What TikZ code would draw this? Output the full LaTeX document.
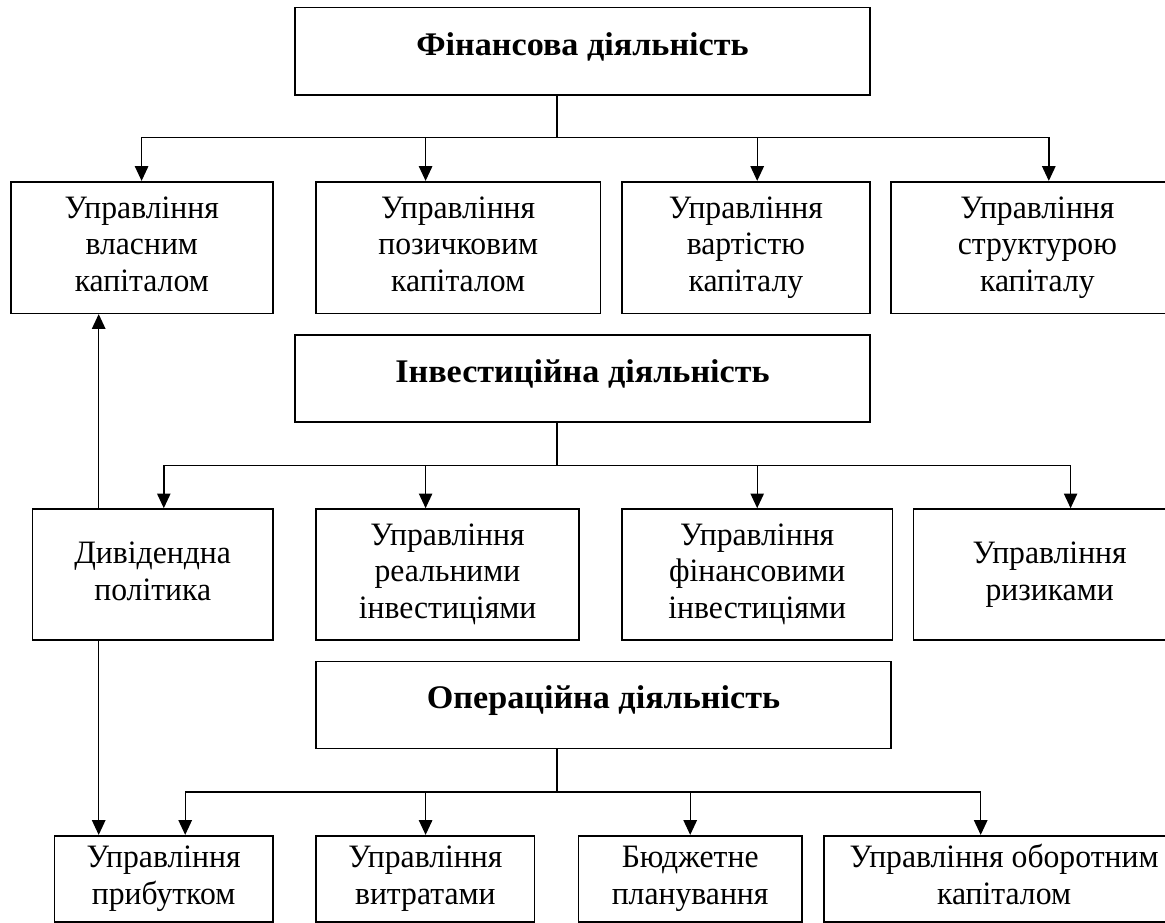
\documentclass[tikz,border=0pt]{standalone}
\usepackage{graphicx}
\usepackage{fontspec}
\setmainfont{Liberation Serif}
\usetikzlibrary{arrows.meta}
\newcommand{\mybox}[7]{\node[#1, minimum width={(#5-#3)*0.75pt}, minimum height={(#6-#4)*0.75pt}] (#2) at ({(#3+#5)/2},{(#4+#6)/2}) {#7};}
\newcommand{\mytext}[1]{\scalebox{0.97}[1]{\begin{tabular}{@{}c@{}}#1\end{tabular}}}
\newcommand{\mytitle}[1]{\scalebox{1.035}[1]{#1}}
\tikzset{
  box/.style={draw, line width=1.2pt, inner sep=0pt, align=center, font=\fontsize{24.5pt}{27.5pt}\selectfont},
  tbox/.style={box, font=\fontsize{24.75pt}{27.5pt}\selectfont\bfseries, text height=18pt, text depth=12pt},
  conn/.style={line width=1.05pt, line cap=rect},
  arr/.style={line width=1.05pt, -{Triangle[length=11pt,width=10pt]}}
}
\begin{document}
\begin{tikzpicture}[x=0.75pt,y=-0.75pt]
\useasboundingbox (0,0) rectangle (1165,922);
\fill[white] (0,0) rectangle (1165,922);
\clip (0,0) rectangle (1165,922);

% level 1
\mybox{tbox}{F}{295}{7.5}{870}{95}{\mytitle{Фінансова діяльність}}
\mybox{box}{A1}{10.7}{181.7}{272.9}{313.3}{\mytext{Управління\\власним\\капіталом}}
\mybox{box}{A2}{316.1}{181.7}{600.3}{313.3}{\mytext{Управління\\позичковим\\капіталом}}
\mybox{box}{A3}{622.1}{181.7}{869.7}{313.3}{\mytext{Управління\\вартістю\\капіталу}}
\mybox{box}{A4}{890.8}{181.7}{1184}{313.3}{\mytext{Управління\\структурою\\капіталу}}

% level 2
\mybox{tbox}{I}{295}{334.7}{870}{421.7}{\mytitle{Інвестиційна діяльність}}
\mybox{box}{B1}{32.5}{509}{272.9}{639.7}{\mytext{Дивідендна\\політика}}
\mybox{box}{B2}{316.1}{509}{579}{639.7}{\mytext{Управління\\реальними\\інвестиціями}}
\mybox{box}{B3}{622.1}{509}{892.3}{639.7}{\mytext{Управління\\фінансовими\\інвестиціями}}
\mybox{box}{B4}{913.3}{509}{1186}{639.7}{\mytext{Управління\\ризиками}}

% level 3
\mybox{tbox}{O}{316}{661.3}{891}{748.3}{\mytitle{Операційна діяльність}}
\mybox{box}{C1}{54.3}{835.7}{272.9}{922}{\mytext{Управління\\прибутком}}
\mybox{box}{C2}{316.1}{835.7}{534.6}{922}{\mytext{Управління\\витратами}}
\mybox{box}{C3}{578.3}{835.7}{802}{922}{\mytext{Бюджетне\\планування}}
\mybox{box}{C4}{824.2}{835.7}{1184}{922}{\mytext{Управління оборотним\\капіталом}}

% bus 1
\coordinate (s1) at (556.8,137.3);
\coordinate (h1a) at (141.6,137.3);
\coordinate (h1b) at (425.6,137.3);
\coordinate (h1c) at (757.2,137.3);
\coordinate (h1d) at (1048.8,137.3);
\draw[conn] (F.south -| s1) -- (s1);
\draw[conn] (h1a) -- (h1d);
\draw[arr] (h1a) -- (A1.north -| h1a);
\draw[arr] (h1b) -- (A2.north -| h1b);
\draw[arr] (h1c) -- (A3.north -| h1c);
\draw[arr] (h1d) -- (A4.north -| h1d);

% bus 2
\coordinate (s2) at (556.8,465.3);
\coordinate (h2a) at (163.8,465.3);
\coordinate (h2b) at (425.6,465.3);
\coordinate (h2c) at (757.2,465.3);
\coordinate (h2d) at (1070.6,465.3);
\draw[conn] (I.south -| s2) -- (s2);
\draw[conn] (h2a) -- (h2d);
\draw[arr] (h2a) -- (B1.north -| h2a);
\draw[arr] (h2b) -- (B2.north -| h2b);
\draw[arr] (h2c) -- (B3.north -| h2c);
\draw[arr] (h2d) -- (B4.north -| h2d);

% bus 3
\coordinate (s3) at (556.8,792);
\coordinate (h3a) at (185.2,792);
\coordinate (h3b) at (425.6,792);
\coordinate (h3c) at (690.2,792);
\coordinate (h3d) at (980.7,792);
\draw[conn] (O.south -| s3) -- (s3);
\draw[conn] (h3a) -- (h3d);
\draw[arr] (h3a) -- (C1.north -| h3a);
\draw[arr] (h3b) -- (C2.north -| h3b);
\draw[arr] (h3c) -- (C3.north -| h3c);
\draw[arr] (h3d) -- (C4.north -| h3d);

% dividend policy links
\coordinate (dv) at (98.7,0);
\draw[arr] (B1.north -| dv) -- (A1.south -| dv);
\draw[arr] (B1.south -| dv) -- (C1.north -| dv);
\end{tikzpicture}
\end{document}
